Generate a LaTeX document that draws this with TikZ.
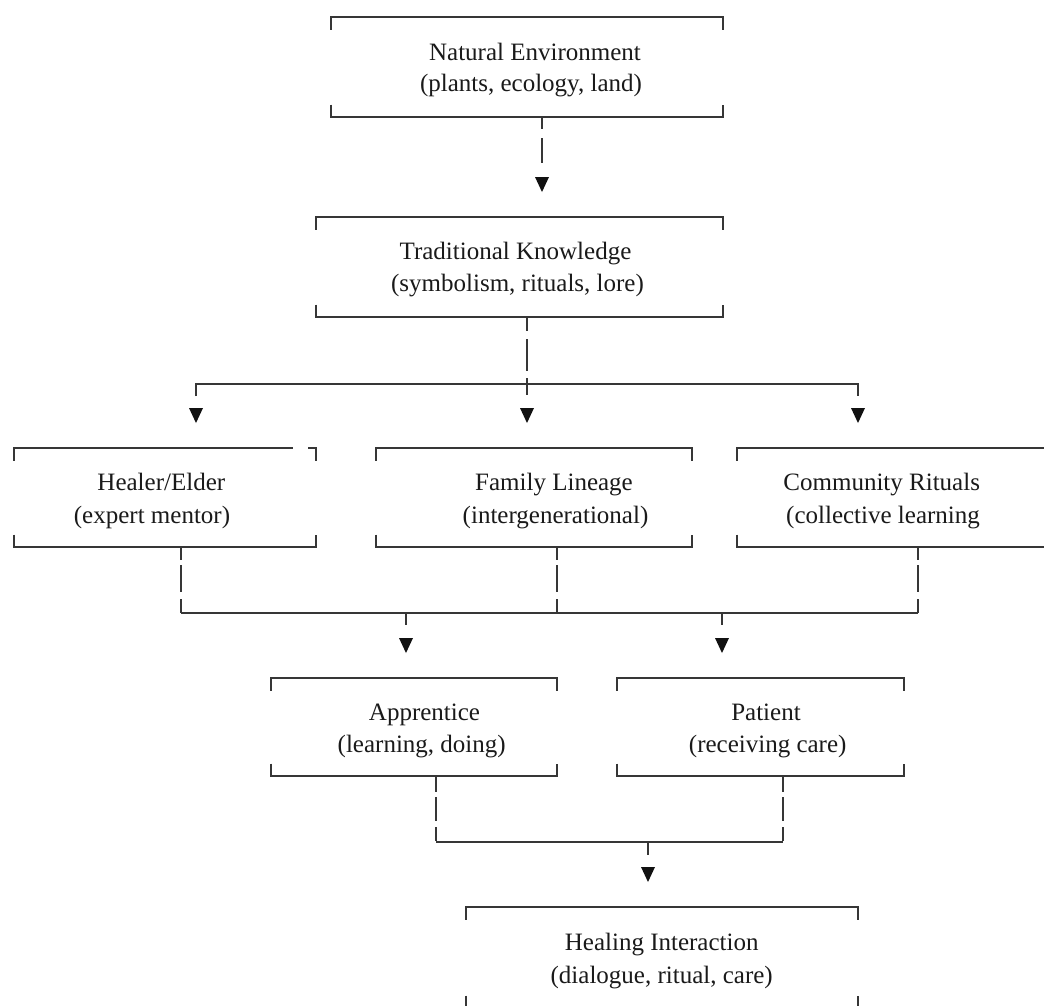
\documentclass[tikz,border=0pt]{standalone}
\usepackage{fontspec}
\setmainfont{Liberation Serif}
\definecolor{linegray}{HTML}{363636}
\definecolor{textgray}{HTML}{1A1A1A}
\definecolor{arrowfill}{HTML}{111111}
\newcommand\brk[1]{%
  \draw[boxline] ([yshift=-12.5pt]#1.north west) -- (#1.north west) -- (#1.north east) -- ([yshift=-12.5pt]#1.north east);
  \draw[boxline] ([yshift=12.5pt]#1.south west) -- (#1.south west) -- (#1.south east) -- ([yshift=12.5pt]#1.south east);}
\newcommand\tri[1]{%
  \fill[arrowfill] ([xshift=-7pt]#1) -- ([xshift=7pt]#1) -- ([yshift=-15pt]#1) -- cycle;}
\begin{document}
\begin{tikzpicture}[x=1pt,y=-1pt,
  box/.style={draw=none, rectangle, inner sep=0pt, outer sep=0pt},
  boxline/.style={draw=linegray, line width=1.7pt},
  conn/.style={draw=linegray, line width=1.7pt},
  lbl/.style={anchor=base, inner sep=0pt, outer sep=0pt, text=textgray, font=\fontsize{25}{31}\selectfont},
  dashone/.style={dash pattern=on 12pt off 9pt on 25pt off 60pt},
  dashtwo/.style={dash pattern=on 14pt off 8pt on 32pt off 7pt on 17pt off 60pt},
  dashthree/.style={dash pattern=on 13pt off 5pt on 27pt off 7pt on 14pt off 60pt},
  dashfour/.style={dash pattern=on 16pt off 5pt on 24pt off 6pt on 14pt off 60pt},
]
\useasboundingbox (0,0) rectangle (1044,1005);
\fill[white] (0,0) rectangle (1044,1005);
\clip (0,0) rectangle (1044,1005);

% boxes
\node[box, minimum width=392pt, minimum height=100pt] (nat) at (527,67) {};
\node[box, minimum width=407pt, minimum height=100pt] (trad) at (519.5,267) {};
\node[box, minimum width=302pt, minimum height=99pt] (healer) at (165,497.5) {};
\node[box, minimum width=316pt, minimum height=99pt] (family) at (534,497.5) {};
\node[box, minimum width=333pt, minimum height=99pt] (community) at (903.5,497.5) {};
\node[box, minimum width=286pt, minimum height=98pt] (appr) at (414,727) {};
\node[box, minimum width=287pt, minimum height=98pt] (patient) at (760.5,727) {};
\node[box, minimum width=392pt, minimum height=101pt] (healing) at (662,957.5) {};

\brk{nat}
\brk{trad}
\brk{family}
\brk{community}
\brk{appr}
\brk{patient}
\brk{healing}
% healer box with a gap in its top edge
\draw[boxline] ([yshift=-12.5pt]healer.north west) -- (healer.north west) -- ([xshift=-23pt]healer.north east);
\draw[boxline] ([xshift=-8pt]healer.north east) -- (healer.north east) -- ([yshift=-12.5pt]healer.north east);
\draw[boxline] ([yshift=12.5pt]healer.south west) -- (healer.south west) -- (healer.south east) -- ([yshift=12.5pt]healer.south east);

% texts
\node[lbl] (natA) at (535,60) {Natural Environment};
\node[lbl] (natB) at (531,91) {(plants, ecology, land)};
\node[lbl] (tradA) at (515.5,259.5) {Traditional Knowledge};
\node[lbl] (tradB) at (517.5,291.5) {(symbolism, rituals, lore)};
\node[lbl] (healerA) at (161.3,490) {Healer/Elder};
\node[lbl] (healerB) at (152,523) {(expert mentor)};
\node[lbl] (familyA) at (554,490) {Family Lineage};
\node[lbl] (familyB) at (555.5,523) {(intergenerational)};
\node[lbl] (communityA) at (881.7,490) {Community Rituals};
\node[lbl] (communityB) at (883,523) {(collective learning};
\node[lbl] (apprA) at (424.5,720.5) {Apprentice};
\node[lbl] (apprB) at (421.7,752) {(learning, doing)};
\node[lbl] (patientA) at (766,720.5) {Patient};
\node[lbl] (patientB) at (767.7,752) {(receiving care)};
\node[lbl] (healingA) at (661.7,950.7) {Healing Interaction};
\node[lbl] (healingB) at (661.7,983.5) {(dialogue, ritual, care)};

% arrow positions (top of each triangle)
\coordinate (a1) at (542,177);
\coordinate (a2) at (196,408);
\coordinate (a3) at (527,408);
\coordinate (a4) at (858,408);
\coordinate (b1) at (406,638);
\coordinate (b2) at (722,638);
\coordinate (c1) at (648,867);
\coordinate (v1) at (181,613);
\coordinate (v2) at (557,613);
\coordinate (v3) at (918,613);
\coordinate (w1) at (436,842);
\coordinate (w2) at (783,842);

% Natural -> Traditional
\draw[conn, dashone] (nat.south -| a1) -- ++(0,46);
\tri{a1}

% Traditional -> three sources
\draw[conn, dashtwo] (trad.south -| a3) -- ++(0,78);
\draw[conn] ([yshift=12pt]a2) -- ([yshift=24pt]a2) -- ([yshift=24pt]a4) -- ([yshift=12pt]a4);
\tri{a2}
\tri{a3}
\tri{a4}

% three sources -> Apprentice / Patient
\draw[conn, dashthree] (healer.south -| v1) -- (v1);
\draw[conn, dashthree] (family.south -| v2) -- (v2);
\draw[conn, dashthree] (community.south -| v3) -- (v3);
\draw[conn] (v1) -- (v3);
\draw[conn] (b1 |- v1) -- ([yshift=13pt]b1);
\draw[conn] (b2 |- v1) -- ([yshift=13pt]b2);
\tri{b1}
\tri{b2}

% Apprentice / Patient -> Healing Interaction
\draw[conn, dashfour] (appr.south -| w1) -- (w1);
\draw[conn, dashfour] (patient.south -| w2) -- (w2);
\draw[conn] (w1) -- (w2);
\draw[conn] (c1 |- w1) -- ([yshift=12pt]c1);
\tri{c1}
\end{tikzpicture}
\end{document}
